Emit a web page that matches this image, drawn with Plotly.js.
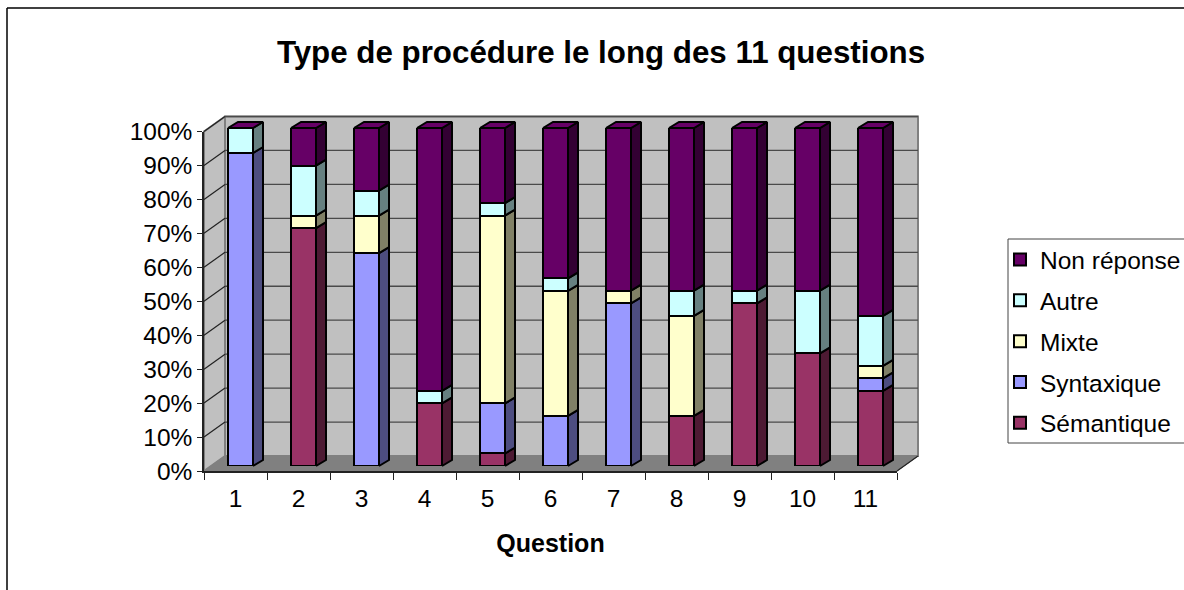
<!DOCTYPE html>
<html><head><meta charset="utf-8">
<script src="https://cdn.plot.ly/plotly-3.0.1.min.js"></script>
<style>html,body{margin:0;padding:0;background:#fff;overflow:hidden}#c{width:1184px;height:590px}</style>
</head><body><div id="c"></div>
<script>
const questions = [1,2,3,4,5,6,7,8,9,10,11];
const semantique = [0,70.4,0,18.5,3.7,0,0,14.8,48.1,33.3,22.2];
const syntaxique = [92.6,0,63,0,14.8,14.8,48.1,0,0,0,3.7];
const mixte      = [0,3.7,11.1,0,55.6,37,3.8,29.6,0,0,3.7];
const autre      = [7.4,14.8,7.4,3.7,3.7,3.7,0,7.5,3.8,18.6,14.8];
const nonReponse = [0,11.1,18.5,77.8,22.2,44.5,48.1,48.1,48.1,48.1,55.6];
const yTicks = [0,10,20,30,40,50,60,70,80,90,100];
const yLabels = yTicks.map(v => v + '%');

const W = 1184, H = 590;
const FONT = '"Liberation Sans", Arial, sans-serif';
const px = { left:204, right:897, y0:471, y100:131.5, wallDx:21, wallDy:15, pad:8,
             barBottom:466, barTop:128, barDx:5, depthDx:10, depthDy:6, barW:25 };
const catW = (px.right-px.left)/questions.length;
const yU = (px.y0-px.y100)/100;
const wx = px.wallDx/catW, wy = px.wallDy/yU;
const fx = d => d/W, fy = d => (H-d)/H;

const series = [
 {name:'Sémantique', v:semantique, c:'#993366', side:'#4D1A33', rank:5},
 {name:'Syntaxique', v:syntaxique, c:'#9999FF', side:'#4D4D80', rank:4},
 {name:'Mixte',      v:mixte,      c:'#FFFFCC', side:'#808066', rank:3},
 {name:'Autre',      v:autre,      c:'#CCFFFF', side:'#668080', rank:2},
 {name:'Non réponse',v:nonReponse, c:'#660066', side:'#330033', rank:1}
];

const xLo = 0.5, xHi = questions.length+0.5;
const BAR_LINE = 2;
const poly = (name,xs,ys,fill,line,lw) => ({type:'scatter',mode:'lines',x:xs,y:ys,fill:'toself',
  fillcolor:fill,line:{color:line,width:lw},showlegend:false,hoverinfo:'skip',name});
const traces = [];
// walls and floor
traces.push(poly('back wall',[xLo+wx,xHi+wx,xHi+wx,xLo+wx,xLo+wx],[wy,wy,100+wy,100+wy,wy],'#C0C0C0','#808080',2));
traces.push(poly('side wall',[xLo,xLo+wx,xLo+wx,xLo,xLo],[0,wy,100+wy,100,0],'#C0C0C0','#808080',2));
traces.push(poly('floor',[xLo,xHi,xHi+wx,xLo+wx,xLo],[0,0,wy,wy,0],'#808080','#808080',1));
// gridlines on walls
const gx=[],gy=[];
yTicks.forEach(t=>{ if(t>0){gx.push(xLo+wx,xHi+wx,null);gy.push(t+wy,t+wy,null);} });
traces.push({type:'scatter',mode:'lines',x:gx,y:gy,line:{color:'#4a4a4a',width:1.3},showlegend:false,hoverinfo:'skip'});
const dx=[],dy=[];
yTicks.forEach(t=>{ if(t>0){dx.push(xLo,xLo+wx,null);dy.push(t,t+wy,null);} });
traces.push({type:'scatter',mode:'lines',x:dx,y:dy,line:{color:'#222',width:1.2},showlegend:false,hoverinfo:'skip'});
// floor right edge
traces.push({type:'scatter',mode:'lines',x:[xHi,xHi+wx],y:[0,wy],line:{color:'#222',width:1.2},showlegend:false,hoverinfo:'skip'});

// depth of the bars, through the same data scale
const scale = (px.barBottom-px.barTop)/(100*yU);
const fy0 = (px.y0-px.barBottom)/yU;
const bx = px.barDx/catW, bw = px.barW/catW, ddx = px.depthDx/catW, ddy = px.depthDy/yU;
const Yf = v => fy0 + v*scale;
const cum = questions.map(()=>0);
series.forEach(s=>{
  const xs=[],ys=[];
  questions.forEach((q,i)=>{
    const a=cum[i], b=cum[i]+s.v[i]; cum[i]=b;
    if(s.v[i]>0){
      const r=q+bx+bw/2;
      xs.push(r,r+ddx,r+ddx,r,r,null);
      ys.push(Yf(a),Yf(a)+ddy,Yf(b)+ddy,Yf(b),Yf(a),null);
    }
  });
  traces.push(poly(s.name+' side',xs,ys,s.side,'#000',BAR_LINE));
});
// top caps
{
  const xs=[],ys=[];
  questions.forEach((q,i)=>{
    const l=q+bx-bw/2, r=q+bx+bw/2, t=Yf(cum[i]);
    xs.push(l,r,r+ddx,l+ddx,l,null);
    ys.push(t,t,t+ddy,t+ddy,t,null);
  });
  traces.push(poly('top',xs,ys,'#660066','#000',BAR_LINE));
}
// front faces: real stacked bars on an axis pair shifted to the front of the bar depth
series.forEach(s=>{
  traces.push({type:'bar',name:s.name,x:questions,y:s.v.map(v=>v>0?v:null),xaxis:'x2',yaxis:'y2',width:bw,
    marker:{color:s.c,line:{color:'#000',width:BAR_LINE}},cliponaxis:false,hoverinfo:'skip',
    legendgroup:s.name,legendrank:s.rank,showlegend:true});
});
// carrier of the visible axes
traces.push({type:'scatter',mode:'none',x:[questions[0]],y:[yTicks[0]],xaxis:'x3',yaxis:'y3',showlegend:false,hoverinfo:'skip'});

const layout = {
  width:W,height:H,margin:{l:0,r:0,t:0,b:0,autoexpand:false},
  paper_bgcolor:'#fff',plot_bgcolor:'rgba(0,0,0,0)',
  barmode:'stack',hovermode:false,
  font:{family:FONT,color:'#000',size:24.5},
  title:{text:'Type de procédure le long des 11 questions',font:{family:FONT,size:31.3,weight:700,color:'#000'},
    xref:'paper',yref:'paper',x:fx(601),y:fy(52),xanchor:'center',yanchor:'middle'},
  xaxis:{type:'linear',domain:[fx(px.left-px.pad),fx(px.right+px.wallDx+px.pad)],
    range:[xLo-px.pad/catW,xHi+(px.wallDx+px.pad)/catW],anchor:'y',visible:false},
  yaxis:{type:'linear',domain:[fy(px.y0+px.pad),fy(px.y100-px.wallDy-px.pad)],
    range:[-px.pad/yU,100+(px.wallDy+px.pad)/yU],anchor:'x',visible:false},
  xaxis2:{type:'linear',domain:[fx(px.left+px.barDx),fx(px.right+px.barDx)],range:[xLo,xHi],anchor:'y2',visible:false},
  yaxis2:{type:'linear',domain:[fy(px.barBottom),fy(px.barTop)],range:[0,100],anchor:'x2',visible:false},
  xaxis3:{type:'linear',domain:[fx(px.left),fx(px.right)],range:[xLo,xHi],anchor:'y3',
    tickmode:'array',tickvals:questions,ticktext:questions.map(String),ticks:'',
    minor:{tickmode:'array',tickvals:questions.map(q=>q-0.5).concat([xHi]),ticks:'outside',ticklen:7,tickcolor:'#222',tickwidth:1.2,showgrid:false},
    showgrid:false,zeroline:false,showline:true,linecolor:'#222',linewidth:1.5,
    tickfont:{size:24.5},ticklabelstandoff:5,
    title:{text:'Question',font:{family:FONT,size:25,weight:700,color:'#000'},standoff:23}},
  yaxis3:{type:'linear',domain:[fy(px.y0),fy(px.y100)],range:[0,100],anchor:'x3',
    tickmode:'array',tickvals:yTicks,ticktext:yLabels,ticks:'outside',ticklen:5,tickcolor:'#222',tickwidth:1.2,
    showgrid:false,zeroline:false,showline:true,linecolor:'#222',linewidth:1.5,tickfont:{size:24.5}},
  legend:{x:fx(1000),y:fy(237),xanchor:'left',yanchor:'top',traceorder:'grouped',tracegroupgap:6,
    bgcolor:'rgba(0,0,0,0)',borderwidth:0,font:{family:FONT,size:24.5,color:'#000'},entrywidth:140,entrywidthmode:'pixels'},
  shapes:[
    {type:'line',xref:'paper',yref:'paper',x0:fx(7),x1:fx(7),y0:fy(8),y1:fy(600),line:{color:'#000',width:1.5}},
    {type:'line',xref:'paper',yref:'paper',x0:fx(7),x1:fx(1190),y0:fy(8),y1:fy(8),line:{color:'#000',width:1.5}},
    {type:'rect',xref:'paper',yref:'paper',x0:fx(1008),x1:fx(1190),y0:fy(239),y1:fy(443),line:{color:'#444',width:1},fillcolor:'#fff',layer:'below'}
  ]
};
Plotly.newPlot('c',traces,layout,{displayModeBar:false,responsive:false});
</script></body></html>
